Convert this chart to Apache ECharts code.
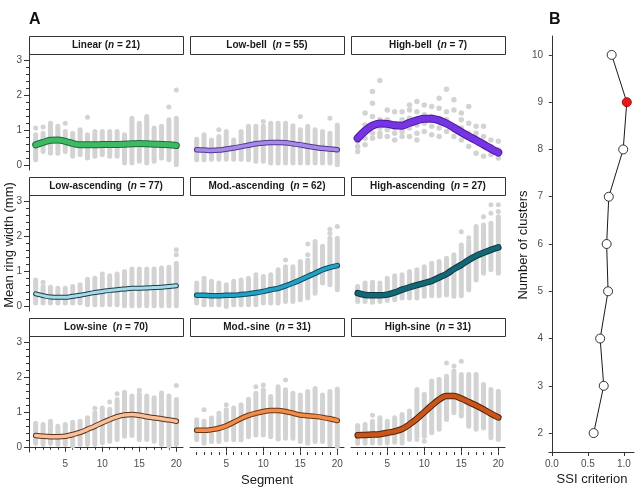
<!DOCTYPE html>
<html>
<head>
<meta charset="utf-8">
<script src="https://cdn.jsdelivr.net/npm/echarts@6/dist/echarts.min.js"></script>
<style>
  html, body { margin: 0; padding: 0; background: #fff; }
  #chart { width: 638px; height: 490px; }
</style>
</head>
<body>
<div id="chart"></div>
<script>
// ---- data ----
const segments = [1, 2, 3, 4, 5, 6, 7, 8, 9, 10, 11, 12, 13, 14, 15, 16, 17, 18, 19, 20];
const segTicks = [5, 10, 15, 20];
const widthTicks = [0, 1, 2, 3];
const widthMinorTicks = [0.2, 0.4, 0.6, 0.8, 1.2, 1.4, 1.6, 1.8, 2.2, 2.4, 2.6, 2.8];

const panelNames = ['Linear', 'Low-bell', 'High-bell', 'Low-ascending', 'Mod.-ascending',
  'High-ascending', 'Low-sine', 'Mod.-sine', 'High-sine'];
const panelN = [21, 55, 7, 77, 62, 27, 70, 31, 31];

// smoothed mean ring width per segment (mm)
const fitValues = [
  [0.57, 0.64, 0.70, 0.71, 0.67, 0.61, 0.57, 0.57, 0.57, 0.58, 0.58, 0.58, 0.59, 0.60, 0.61, 0.60, 0.59, 0.58, 0.57, 0.55],
  [0.43, 0.42, 0.41, 0.42, 0.45, 0.48, 0.52, 0.56, 0.60, 0.62, 0.64, 0.64, 0.63, 0.60, 0.57, 0.53, 0.50, 0.47, 0.45, 0.43],
  [0.76, 0.97, 1.12, 1.18, 1.17, 1.13, 1.12, 1.20, 1.27, 1.32, 1.32, 1.27, 1.18, 1.06, 0.93, 0.81, 0.70, 0.58, 0.46, 0.35],
  [0.34, 0.29, 0.25, 0.24, 0.24, 0.27, 0.30, 0.34, 0.38, 0.41, 0.44, 0.46, 0.48, 0.50, 0.50, 0.51, 0.52, 0.53, 0.55, 0.57],
  [0.30, 0.30, 0.29, 0.29, 0.30, 0.30, 0.32, 0.34, 0.37, 0.41, 0.46, 0.50, 0.57, 0.65, 0.74, 0.84, 0.93, 1.03, 1.10, 1.15],
  [0.36, 0.31, 0.30, 0.30, 0.32, 0.38, 0.46, 0.53, 0.59, 0.65, 0.71, 0.81, 0.91, 1.05, 1.17, 1.31, 1.43, 1.52, 1.60, 1.67],
  [0.32, 0.30, 0.29, 0.29, 0.30, 0.35, 0.41, 0.50, 0.59, 0.69, 0.78, 0.86, 0.91, 0.92, 0.90, 0.86, 0.83, 0.80, 0.77, 0.73],
  [0.47, 0.47, 0.49, 0.53, 0.60, 0.70, 0.81, 0.90, 0.96, 1.01, 1.04, 1.04, 1.01, 0.96, 0.91, 0.89, 0.87, 0.84, 0.80, 0.75],
  [0.33, 0.34, 0.35, 0.36, 0.40, 0.44, 0.51, 0.64, 0.80, 0.99, 1.18, 1.35, 1.45, 1.45, 1.38, 1.28, 1.18, 1.07, 0.95, 0.84]
];

// spread of individual tree values per segment (dense part of each grey column)
const rangeLow = [
  [0.14, 0.38, 0.33, 0.33, 0.38, 0.24, 0.29, 0.19, 0.24, 0.29, 0.24, 0.24, 0.05, 0.05, 0.10, 0.05, 0.10, 0.19, 0.14, 0.00],
  [0.14, 0.14, 0.16, 0.16, 0.16, 0.16, 0.16, 0.14, 0.10, 0.10, 0.05, 0.05, 0.05, 0.05, 0.05, 0.05, 0.05, 0.05, 0.05, 0.00],
  null,
  [0.08, 0.08, 0.08, 0.08, 0.08, 0.08, 0.08, 0.03, 0.03, 0.03, 0.03, 0.03, 0.00, 0.00, 0.00, 0.00, 0.00, 0.00, 0.00, 0.00],
  [0.08, 0.03, 0.03, 0.03, -0.02, 0.03, 0.03, 0.03, 0.03, 0.08, 0.08, 0.08, 0.12, 0.12, 0.17, 0.22, 0.36, 0.65, 0.60, 0.46],
  [0.12, 0.12, 0.10, 0.12, 0.15, 0.17, 0.22, 0.22, 0.22, 0.27, 0.29, 0.29, 0.31, 0.27, 0.36, 0.46, 0.74, 0.93, 1.03, 0.93],
  [0.10, 0.07, 0.10, 0.07, 0.07, 0.02, 0.07, 0.07, 0.07, 0.11, 0.16, 0.21, 0.30, 0.32, 0.21, 0.21, 0.16, 0.07, 0.02, 0.07],
  [0.20, 0.10, 0.15, 0.15, 0.20, 0.20, 0.20, 0.29, 0.34, 0.34, 0.29, 0.24, 0.24, 0.24, 0.15, 0.10, 0.15, 0.15, 0.06, 0.01],
  [0.10, 0.10, 0.11, 0.10, 0.11, 0.13, 0.11, 0.21, 0.30, 0.30, 0.40, 0.50, 0.78, 0.97, 0.88, 0.59, 0.50, 0.54, 0.26, 0.21]
];
const rangeHigh = [
  [0.86, 0.90, 1.19, 1.10, 0.95, 0.90, 1.00, 0.86, 0.95, 0.95, 0.95, 0.95, 0.86, 1.33, 1.19, 1.38, 1.05, 1.10, 1.29, 1.33],
  [0.73, 0.86, 0.71, 0.81, 0.95, 0.71, 0.95, 1.10, 1.10, 1.10, 1.19, 1.19, 1.19, 1.12, 1.00, 1.10, 1.00, 0.95, 0.90, 1.14],
  null,
  [0.74, 0.55, 0.53, 0.50, 0.50, 0.55, 0.60, 0.76, 0.79, 0.82, 0.86, 0.91, 0.98, 1.05, 1.05, 1.05, 1.05, 1.08, 1.10, 1.22],
  [0.65, 0.70, 0.70, 0.65, 0.60, 0.70, 0.74, 0.79, 0.79, 0.84, 0.89, 1.03, 1.12, 1.12, 1.27, 1.31, 1.84, 1.70, 1.93, 1.93],
  [0.55, 0.65, 0.67, 0.55, 0.79, 0.86, 0.89, 0.98, 1.03, 1.12, 1.22, 1.22, 1.36, 1.46, 1.74, 1.84, 2.27, 2.31, 2.36, 2.55],
  [0.67, 0.64, 0.73, 0.59, 0.64, 0.70, 0.73, 0.83, 0.97, 1.11, 1.07, 1.35, 1.54, 1.45, 1.50, 1.45, 1.40, 1.50, 1.45, 1.35],
  [0.77, 0.73, 0.82, 0.87, 1.06, 1.11, 1.20, 1.30, 1.53, 1.63, 1.44, 1.72, 1.63, 1.53, 1.48, 1.58, 1.67, 1.48, 1.58, 1.65],
  [0.61, 0.64, 0.73, 0.83, 0.73, 0.83, 0.92, 1.02, 1.64, 1.50, 1.88, 1.93, 2.02, 2.17, 2.07, 2.07, 2.07, 1.78, 1.64, 1.59]
];
// isolated grey points [segment, mm]
const outliers = [
  [[1, 1.05], [2, 1.08], [5, 1.19], [8, 1.36], [19, 1.65], [20, 2.14]],
  [[4, 1.00], [10, 1.24], [15, 1.38], [19, 1.33]],
  [],
  [[2, 0.67], [10, 0.91], [20, 1.46], [20, 1.60]],
  [[2, 0.79], [9, 0.89], [13, 1.31], [16, 1.77], [16, 1.46], [19, 2.19], [19, 2.07], [20, 2.27]],
  [[4, 0.65], [12, 1.27], [15, 2.12], [15, 0.29], [16, 1.95], [18, 2.55], [19, 2.89], [19, 2.65], [20, 2.89], [20, 2.70]],
  [[9, 1.10], [11, 1.28], [12, 1.52], [13, 1.56], [15, 1.62], [18, 1.54], [20, 1.75]],
  [[2, 1.06], [4, 0.96], [5, 1.20], [8, 1.36], [9, 1.72], [10, 1.77], [12, 0.22], [13, 1.91]],
  [[3, 0.90], [9, 0.21], [10, 0.16], [13, 2.40], [14, 2.31], [15, 2.45]]
];
// High-bell has only 7 trees, so its values are drawn as single points
const highBellDots = [
  [0.81, 0.67, 0.52, 0.38], [1.48, 1.14, 0.95, 0.76, 0.57], [2.10, 1.76, 1.38, 1.10, 0.90, 0.76],
  [2.41, 1.29, 1.05, 0.90, 0.81], [1.57, 1.29, 1.00, 0.81], [1.52, 1.05, 0.90, 0.71],
  [1.52, 1.29, 0.95, 0.81], [1.71, 1.57, 1.33, 1.05, 0.81], [1.81, 1.52, 1.14, 0.90, 0.71],
  [1.71, 1.43, 1.19, 0.95], [1.67, 1.38, 1.10, 0.86], [1.90, 1.62, 1.33, 1.05, 0.81],
  [2.16, 1.52, 1.29, 0.95], [1.86, 1.57, 1.05, 0.81], [1.48, 1.29, 1.05, 0.71],
  [1.67, 1.19, 0.90, 0.52], [1.10, 0.90, 0.71, 0.33], [1.10, 0.81, 0.52, 0.24],
  [0.71, 0.52, 0.29], [0.67, 0.43, 0.19]
];

// panel B
const clusterCounts = [2, 3, 4, 5, 6, 7, 8, 9, 10];
const ssiValues = [0.58, 0.72, 0.67, 0.78, 0.76, 0.79, 0.99, 1.04, 0.83];
const clusterTicks = [2, 3, 4, 5, 6, 7, 8, 9, 10];
const ssiTicks = [0, 0.5, 1];
const bestCount = 9;

// ---- styling ----
const fillColors = ['#3dba63', '#a88be6', '#7634e4', '#a3dcea', '#22a2c4', '#146775', '#f8c19c', '#f28c4b', '#c8561b'];
const edgeColors = ['#1d6a37', '#4f3790', '#4b1a99', '#1c3c46', '#0d4a5e', '#0a3a44', '#5e3218', '#6e3410', '#552207'];
const lineWidths = [7, 5.5, 8, 5, 5.5, 6.5, 5.5, 5.5, 6.5];

const FONT = '"Liberation Sans", Arial, sans-serif';
const colLeft = [29, 190, 351];
const rowTop = [54, 195, 336];
const panelW = 154, panelH = 116, stripH = 18;
const GREY = '#d3d3d3';

const myChart = echarts.init(document.getElementById('chart'));

let grids = [], xAxes = [], yAxes = [], series = [], graphics = [];

function renderRange(params, api) {
  const top = api.coord([api.value(0), api.value(2)]);
  const bot = api.coord([api.value(0), api.value(1)]);
  return {
    type: 'rect',
    shape: {x: top[0] - 2.5, y: top[1] - 2.5, width: 5, height: bot[1] - top[1] + 5, r: 2.5},
    style: {fill: GREY}
  };
}

panelNames.forEach((name, i) => {
  const row = Math.floor(i / 3), col = i % 3;
  grids.push({left: colLeft[col], top: rowTop[row], width: panelW, height: panelH});

  // main x axis
  const xi = xAxes.length;
  xAxes.push({
    gridIndex: i, type: 'value', min: 0.1, max: 20.9,
    show: row === 2,
    axisLine: {lineStyle: {color: '#333'}},
    axisTick: {length: 5, customValues: segTicks, lineStyle: {color: '#333'}},
    axisLabel: {customValues: segTicks, color: '#4d4d4d', fontSize: 10, margin: 7, fontFamily: FONT},
    splitLine: {show: false}
  });
  if (row === 2) {
    // every segment gets a small tick
    xAxes.push({
      gridIndex: i, type: 'value', min: 0.1, max: 20.9, position: 'bottom',
      axisLine: {show: false},
      axisTick: {length: 3, customValues: segments, lineStyle: {color: '#333'}},
      axisLabel: {show: false},
      splitLine: {show: false}
    });
  }
  const yi = yAxes.length;
  yAxes.push({
    gridIndex: i, type: 'value', min: -0.15, max: 3.17,
    show: col === 0,
    axisLine: {show: true, lineStyle: {color: '#333'}},
    axisTick: {length: 5, customValues: widthTicks, lineStyle: {color: '#333'}},
    axisLabel: {customValues: widthTicks, color: '#4d4d4d', fontSize: 10, margin: 7, fontFamily: FONT},
    splitLine: {show: false}
  });
  if (col === 0) {
    yAxes.push({
      gridIndex: i, type: 'value', min: -0.15, max: 3.17, position: 'left',
      axisLine: {show: false},
      axisTick: {length: 3, customValues: widthMinorTicks, lineStyle: {color: '#333'}},
      axisLabel: {show: false},
      splitLine: {show: false}
    });
  }

  // grey columns
  if (rangeLow[i]) {
    series.push({
      type: 'custom', xAxisIndex: xi, yAxisIndex: yi, renderItem: renderRange, z: 1,
      silent: true,
      data: segments.map((s, j) => [s, rangeLow[i][j], rangeHigh[i][j]])
    });
  }
  let pts = outliers[i];
  if (i === 2) {
    pts = [];
    highBellDots.forEach((vals, j) => vals.forEach(v => pts.push([segments[j], v])));
  }
  series.push({
    type: 'scatter', xAxisIndex: xi, yAxisIndex: yi, z: 1, silent: true,
    symbolSize: i === 2 ? 5.5 : 5, itemStyle: {color: GREY, opacity: 1},
    data: pts
  });

  // fitted curve: dark edge + coloured core
  const fitData = segments.map((s, j) => [s, fitValues[i][j]]);
  series.push({
    type: 'line', xAxisIndex: xi, yAxisIndex: yi, z: 3, silent: true,
    smooth: 0.35, symbol: 'none',
    lineStyle: {color: edgeColors[i], width: lineWidths[i], cap: 'round'},
    data: fitData
  });
  series.push({
    type: 'line', xAxisIndex: xi, yAxisIndex: yi, z: 4, silent: true,
    smooth: 0.35, symbol: 'none',
    lineStyle: {color: fillColors[i], width: lineWidths[i] - 2, cap: 'round'},
    data: fitData
  });

  // facet strip
  const sx = colLeft[col] + 0.5, sy = rowTop[row] - stripH + 0.5;
  const gap = i === 0 ? ' ' : '  ';
  graphics.push({
    type: 'rect', shape: {x: sx, y: sy, width: panelW, height: stripH},
    style: {fill: '#fff', stroke: '#333', lineWidth: 1}, z: 10
  });
  graphics.push({
    type: 'text', x: colLeft[col] + panelW / 2, y: rowTop[row] - stripH / 2, z: 11,
    style: {
      text: '{b|' + name + gap + '(}{i|n}{b| = ' + panelN[i] + ')}',
      align: 'center', verticalAlign: 'middle',
      rich: {
        b: {fontSize: 10, fontWeight: 'bold', fill: '#1a1a1a', fontFamily: FONT},
        i: {fontSize: 10, fontWeight: 'bold', fontStyle: 'italic', fill: '#1a1a1a', fontFamily: FONT}
      }
    }
  });
});

// panel B
const bIndex = grids.length;
grids.push({left: 549, top: 36, width: 85, height: 416});
const bx = xAxes.length;
xAxes.push({
  gridIndex: bIndex, type: 'value', min: -0.04, max: 1.14,
  axisLine: {lineStyle: {color: '#333'}},
  axisTick: {length: 4, customValues: ssiTicks, lineStyle: {color: '#333'}},
  axisLabel: {customValues: ssiTicks, formatter: v => v.toFixed(1), color: '#4d4d4d', fontSize: 10, margin: 7, fontFamily: FONT},
  splitLine: {show: false}
});
const by = yAxes.length;
yAxes.push({
  gridIndex: bIndex, type: 'value', min: 1.6, max: 10.4,
  axisLine: {lineStyle: {color: '#333'}},
  axisTick: {length: 3, customValues: clusterTicks, lineStyle: {color: '#333'}},
  axisLabel: {customValues: clusterTicks, color: '#4d4d4d', fontSize: 10, margin: 6, fontFamily: FONT},
  splitLine: {show: false}
});
series.push({
  type: 'line', xAxisIndex: bx, yAxisIndex: by, silent: true,
  symbol: 'circle', symbolSize: 9,
  lineStyle: {color: '#1a1a1a', width: 1},
  itemStyle: {color: '#fff', borderColor: '#333', borderWidth: 1},
  data: clusterCounts.map((k, j) => ({
    value: [ssiValues[j], k],
    itemStyle: k === bestCount ? {color: '#e8191b', borderColor: '#a50f10'} : undefined
  }))
});

// titles and axis names
graphics.push(
  {type: 'text', x: 29, y: 20, style: {text: 'A', fontSize: 16, fontWeight: 'bold', fill: '#111', fontFamily: FONT, verticalAlign: 'middle'}},
  {type: 'text', x: 549, y: 20, style: {text: 'B', fontSize: 16, fontWeight: 'bold', fill: '#111', fontFamily: FONT, verticalAlign: 'middle'}},
  {type: 'text', x: 267, y: 480, style: {text: 'Segment', fontSize: 13, fill: '#1a1a1a', fontFamily: FONT, align: 'center', verticalAlign: 'middle'}},
  {type: 'text', x: 9, y: 245, rotation: Math.PI / 2, style: {text: 'Mean ring width (mm)', fontSize: 13, fill: '#1a1a1a', fontFamily: FONT, align: 'center', verticalAlign: 'middle'}},
  {type: 'text', x: 523, y: 245, rotation: Math.PI / 2, style: {text: 'Number of clusters', fontSize: 13, fill: '#1a1a1a', fontFamily: FONT, align: 'center', verticalAlign: 'middle'}},
  {type: 'text', x: 592, y: 479, style: {text: 'SSI criterion', fontSize: 13, fill: '#1a1a1a', fontFamily: FONT, align: 'center', verticalAlign: 'middle'}}
);

const option = {
  animation: false,
  backgroundColor: '#fff',
  grid: grids,
  xAxis: xAxes,
  yAxis: yAxes,
  series: series,
  graphic: graphics
};
myChart.setOption(option);
</script>
</body>
</html>
